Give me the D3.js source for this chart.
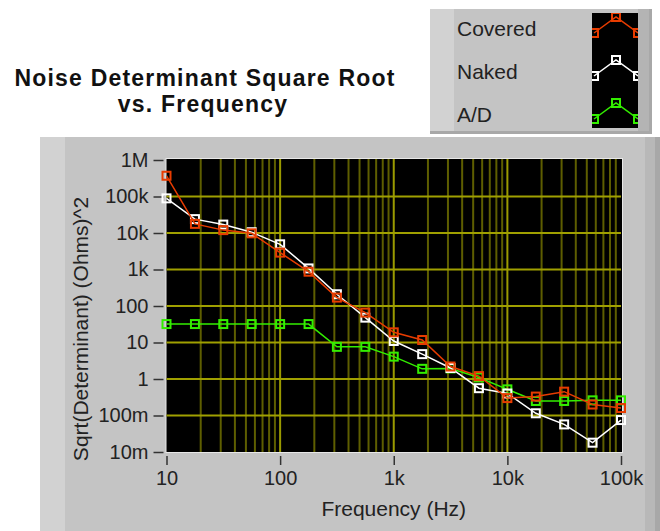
<!DOCTYPE html>
<html>
<head>
<meta charset="utf-8">
<script src="https://cdn.jsdelivr.net/npm/d3@7"></script>
<style>
  body { margin: 0; background: #fff; }
  svg { display: block; font-family: "Liberation Sans", Arial, sans-serif; }
</style>
</head>
<body>
<div id="chart"></div>
<script>
// Frequencies (Hz), 4 points per decade
const freqs = [10, 17.8, 31.6, 56.2, 100, 178, 316, 562, 1000, 1780, 3160, 5620, 10000, 17800, 31600, 56200, 100000];

// Sqrt(Determinant) values
const covered = [370000, 17800, 12000, 9800, 2900, 870, 170, 66, 19, 11.7, 2.2, 1.2, 0.3, 0.33, 0.45, 0.2, 0.16];
const naked = [89000, 24000, 17000, 10500, 4900, 1070, 210, 48, 11, 4.8, 2, 0.56, 0.4, 0.115, 0.057, 0.018, 0.075];
const adc = [32, 32, 32, 32, 32, 32, 7.6, 7.6, 4.1, 1.9, 1.95, 1.1, 0.52, 0.25, 0.25, 0.26, 0.26];

const seriesNames = ["Covered", "Naked", "A/D"];
const seriesColors = ["#e83c00", "#ffffff", "#33ee00"];

const yTicks = [0.01, 0.1, 1, 10, 100, 1e3, 1e4, 1e5, 1e6];
const yTickLabels = ["10m", "100m", "1", "10", "100", "1k", "10k", "100k", "1M"];
const xTicks = [10, 100, 1e3, 1e4, 1e5];
const xTickLabels = ["10", "100", "1k", "10k", "100k"];

const width = 660, height = 531;
const plot = { left: 166.5, right: 621, top: 160, bottom: 452 };

const svg = d3.select("#chart").append("svg")
  .attr("width", width).attr("height", height);

// Title
const title = svg.append("text")
  .attr("text-anchor", "middle")
  .attr("font-weight", "bold")
  .attr("font-size", 23)
  .attr("letter-spacing", 1.2)
  .attr("fill", "#111");
title.append("tspan").attr("x", 205).attr("y", 86).text("Noise Determinant Square Root");
title.append("tspan").attr("x", 203).attr("y", 112).text("vs. Frequency");

// Legend panel
const legend = svg.append("g");
legend.append("rect").attr("x", 430).attr("y", 9).attr("width", 222).attr("height", 125).attr("fill", "#a8a8a8");
legend.append("rect").attr("x", 430).attr("y", 9).attr("width", 219).attr("height", 122).attr("fill", "#c4c4c4");
legend.append("rect").attr("x", 430).attr("y", 9).attr("width", 24).attr("height", 122).attr("fill", "#d2d2d2");
legend.append("rect").attr("x", 638).attr("y", 9).attr("width", 11).attr("height", 122).attr("fill", "#b4b4b4");
legend.append("rect").attr("x", 592).attr("y", 13).attr("width", 46).attr("height", 115).attr("fill", "#000");
svg.append("clipPath").attr("id", "swatch")
  .append("rect").attr("x", 592).attr("y", 13).attr("width", 46).attr("height", 115);

seriesNames.forEach((name, i) => {
  const base = 33 + i * 43;
  legend.append("text")
    .attr("x", 457).attr("y", base + 3)
    .attr("font-size", 21).attr("fill", "#222")
    .text(name);
  const pts = [[594, base], [616, base - 16], [638, base]];
  const sw = legend.append("g").attr("clip-path", "url(#swatch)");
  sw.append("polyline")
    .attr("points", pts.map(p => p.join(",")).join(" "))
    .attr("fill", "none").attr("stroke", seriesColors[i]).attr("stroke-width", 1.5);
  sw.selectAll(null).data(pts).enter().append("rect")
    .attr("x", d => d[0] - 4).attr("y", d => d[1] - 4)
    .attr("width", 8).attr("height", 8)
    .attr("fill", "none").attr("stroke", seriesColors[i]).attr("stroke-width", 2);
});

// Graph panel
svg.append("rect").attr("x", 40).attr("y", 137).attr("width", 620).attr("height", 394).attr("fill", "#a8a8a8");
svg.append("rect").attr("x", 40).attr("y", 137).attr("width", 605).attr("height", 394).attr("fill", "#c4c4c4");
svg.append("rect").attr("x", 40).attr("y", 137).attr("width", 25).attr("height", 394).attr("fill", "#d2d2d2");
svg.append("rect").attr("x", 645).attr("y", 137).attr("width", 10).attr("height", 394).attr("fill", "#b8b8b8");

// Scales
const x = d3.scaleLog().domain([10, 1e5]).range([plot.left, plot.right]);
const y = d3.scaleLog().domain([0.01, 1e6]).range([plot.bottom, plot.top]);

// Plot background
svg.append("rect")
  .attr("x", plot.left - 1).attr("y", plot.top - 2)
  .attr("width", plot.right - plot.left + 3).attr("height", plot.bottom - plot.top + 3)
  .attr("fill", "#e8e8e8");
svg.append("rect")
  .attr("x", plot.left).attr("y", plot.top - 1)
  .attr("width", plot.right - plot.left + 1).attr("height", plot.bottom - plot.top + 1)
  .attr("fill", "#000");

// Grid
const minorX = [];
for (let d = 10; d < 1e5; d *= 10) {
  for (let m = 2; m <= 9; m++) minorX.push(d * m);
}
const grid = svg.append("g");
grid.selectAll(".minor").data(minorX).enter().append("line")
  .attr("x1", d => x(d)).attr("x2", d => x(d))
  .attr("y1", plot.top - 1).attr("y2", plot.bottom)
  .attr("stroke", "#5e5e00").attr("stroke-width", 2);
grid.selectAll(".majx").data(xTicks.slice(1, -1)).enter().append("line")
  .attr("x1", d => x(d)).attr("x2", d => x(d))
  .attr("y1", plot.top - 1).attr("y2", plot.bottom)
  .attr("stroke", "#9a9a00").attr("stroke-width", 2);
grid.selectAll(".majy").data(yTicks.slice(1, -1)).enter().append("line")
  .attr("x1", plot.left).attr("x2", plot.right)
  .attr("y1", d => y(d)).attr("y2", d => y(d))
  .attr("stroke", "#a0a000").attr("stroke-width", 2);

// Axes
const yAxis = svg.append("g")
  .attr("transform", `translate(${plot.left - 3},0)`)
  .call(d3.axisLeft(y).tickValues(yTicks).tickFormat((d, i) => yTickLabels[i]).tickSize(10).tickPadding(5));
const xAxis = svg.append("g")
  .attr("transform", `translate(0,${plot.bottom + 4})`)
  .call(d3.axisBottom(x).tickValues(xTicks).tickFormat((d, i) => xTickLabels[i]).tickSize(9).tickPadding(6));
[yAxis, xAxis].forEach(a => {
  a.select(".domain").remove();
  a.selectAll(".tick line").attr("stroke", "#333").attr("stroke-width", 1.5);
  a.selectAll(".tick text").attr("font-size", 20).attr("fill", "#222")
    .attr("font-family", "'Liberation Sans', Arial, sans-serif");
});

// Axis titles
svg.append("text")
  .attr("x", (plot.left + plot.right) / 2).attr("y", 516)
  .attr("text-anchor", "middle").attr("font-size", 21).attr("fill", "#222")
  .text("Frequency (Hz)");
svg.append("text")
  .attr("transform", "translate(88,329) rotate(-90)")
  .attr("text-anchor", "middle").attr("font-size", 21).attr("fill", "#222")
  .text("Sqrt(Determinant) (Ohms)^2");

// Series
const allSeries = [covered, naked, adc];
const line = d3.line().x(d => x(d[0])).y(d => y(d[1]));
// draw A/D first, then Naked, then Covered on top
[2, 1, 0].forEach(i => {
  const data = freqs.map((f, j) => [f, allSeries[i][j]]);
  const g = svg.append("g");
  g.append("path")
    .datum(data)
    .attr("d", line)
    .attr("fill", "none")
    .attr("stroke", seriesColors[i])
    .attr("stroke-width", 1.5);
  g.selectAll("rect").data(data).enter().append("rect")
    .attr("x", d => x(d[0]) - 4).attr("y", d => y(d[1]) - 4)
    .attr("width", 8).attr("height", 8)
    .attr("fill", "none")
    .attr("stroke", seriesColors[i])
    .attr("stroke-width", 2);
});
</script>
</body>
</html>
